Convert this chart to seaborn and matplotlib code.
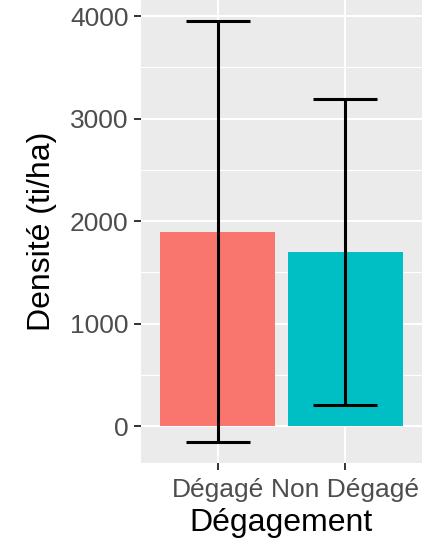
import matplotlib
matplotlib.use("Agg")
import matplotlib.pyplot as plt
import seaborn as sns
import pandas as pd
import numpy as np
from matplotlib.ticker import MultipleLocator

categories = ["Dégagé", "Non Dégagé"]
densite = [1895, 1700]
err_low = [-152, 208]
err_high = [3951, 3194]
colors = ["#F8766D", "#00BFC4"]

df = pd.DataFrame({"Dégagement": categories, "Densité": densite})

sns.set_theme(style="darkgrid")
plt.rcParams["font.family"] = ["Liberation Sans", "DejaVu Sans"]

fig = plt.figure(figsize=(4.38, 5.45), dpi=100)
ax = fig.add_axes([141/438, 1 - 463/545, (422-141)/438, 463/545])
ax.set_facecolor("#EBEBEB")

sns.barplot(data=df, x="Dégagement", y="Densité", hue="Dégagement",
            palette=colors, width=0.9, saturation=1, legend=False, ax=ax,
            linewidth=0, edgecolor="none", zorder=2)

xs = np.arange(len(categories))
ax.vlines(xs, err_low, err_high, color="black", lw=2.2, zorder=3)
ax.hlines(err_low, xs - 0.25, xs + 0.25, color="black", lw=2.2, zorder=3)
ax.hlines(err_high, xs - 0.25, xs + 0.25, color="black", lw=2.2, zorder=3)

ax.set_xlim(-0.6, 1.6)
ax.set_ylim(-357, 4156)
ax.yaxis.set_major_locator(MultipleLocator(1000))
ax.yaxis.set_minor_locator(MultipleLocator(500))
ax.grid(True, which="major", color="white", lw=1.5, zorder=0)
ax.grid(True, which="minor", axis="y", color="white", lw=0.8, zorder=0)
ax.set_axisbelow(True)
for s in ax.spines.values():
    s.set_visible(False)

ax.tick_params(axis="both", which="major", length=5, width=1.4, color="#333333",
               labelcolor="#4D4D4D", labelsize=19, pad=4, left=True, bottom=True)
ax.tick_params(axis="x", which="major", pad=6)
ax.tick_params(axis="y", which="minor", length=0)
ax.set_xlabel("Dégagement", fontsize=23, color="black", labelpad=4)
ax.set_ylabel("Densité (ti/ha)", fontsize=23, color="black", labelpad=9)

fig.savefig("out.png", dpi=100)
